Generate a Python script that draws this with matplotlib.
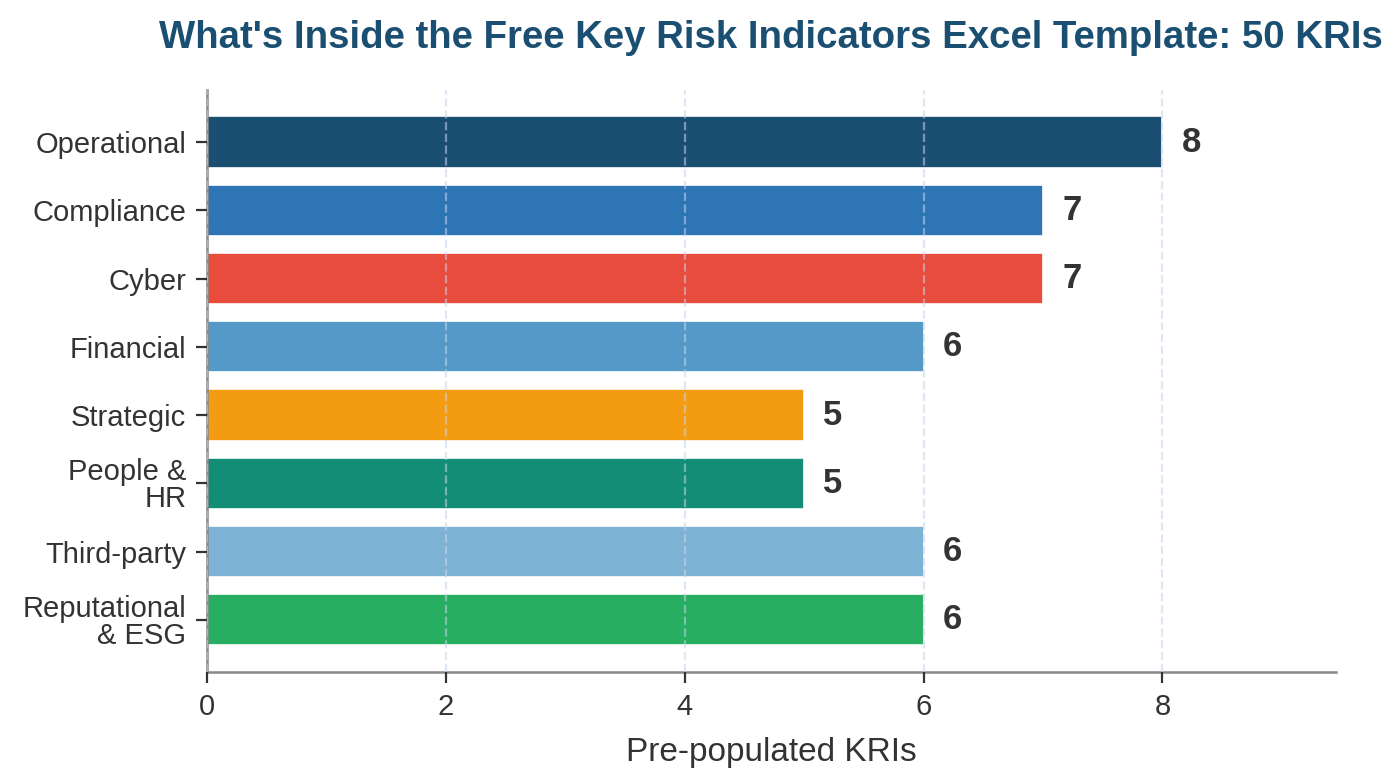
import numpy as np
import matplotlib.pyplot as plt

plt.rcParams['font.family'] = ['Liberation Sans', 'DejaVu Sans']

# data
categories = ["Operational", "Compliance", "Cyber", "Financial", "Strategic",
              "People &\nHR", "Third-party", "Reputational\n& ESG"]
counts = [8, 7, 7, 6, 5, 5, 6, 6]
colors = ["#1B4F72", "#2E75B6", "#E74C3C", "#5499C7", "#F39C12",
          "#138D75", "#7FB3D5", "#27AE60"]

fig, ax = plt.subplots(figsize=(7, 3.915), dpi=200)
fig.subplots_adjust(left=0.148, right=0.954, top=0.885, bottom=0.142)

y = np.arange(len(categories))
ax.barh(y, counts, height=0.75, color=colors, edgecolor="white", linewidth=0.6, zorder=2)
ax.invert_yaxis()
ax.set_yticks(y)
ax.set_yticklabels(categories, fontsize=10.5, color="#333333", linespacing=0.95)

for yi, v in zip(y, counts):
    ax.text(v + 0.16, yi, str(v), va="center", ha="left", fontsize=12.5,
            fontweight="bold", color="#333333")

ax.set_xlim(0, 9.45)
ax.set_xticks([0, 2, 4, 6, 8])
ax.tick_params(axis="x", labelsize=10.5, colors="#333333", length=4, width=0.8)
ax.tick_params(axis="y", length=4, width=0.8, colors="#333333")
ax.set_xlabel("Pre-populated KRIs", fontsize=12, color="#333333", labelpad=6)

ax.grid(axis="x", linestyle="--", color="#c8d4ec", linewidth=0.8, alpha=0.55, zorder=3)
ax.set_axisbelow(False)

for s in ["top", "right"]:
    ax.spines[s].set_visible(False)
for s in ["left", "bottom"]:
    ax.spines[s].set_color("#888888")
    ax.spines[s].set_linewidth(0.9)

ax.set_title("What's Inside the Free Key Risk Indicators Excel Template: 50 KRIs",
             fontsize=13.8, fontweight="bold", color="#1B4F72", pad=15)

fig.savefig("out.png", dpi=200)
